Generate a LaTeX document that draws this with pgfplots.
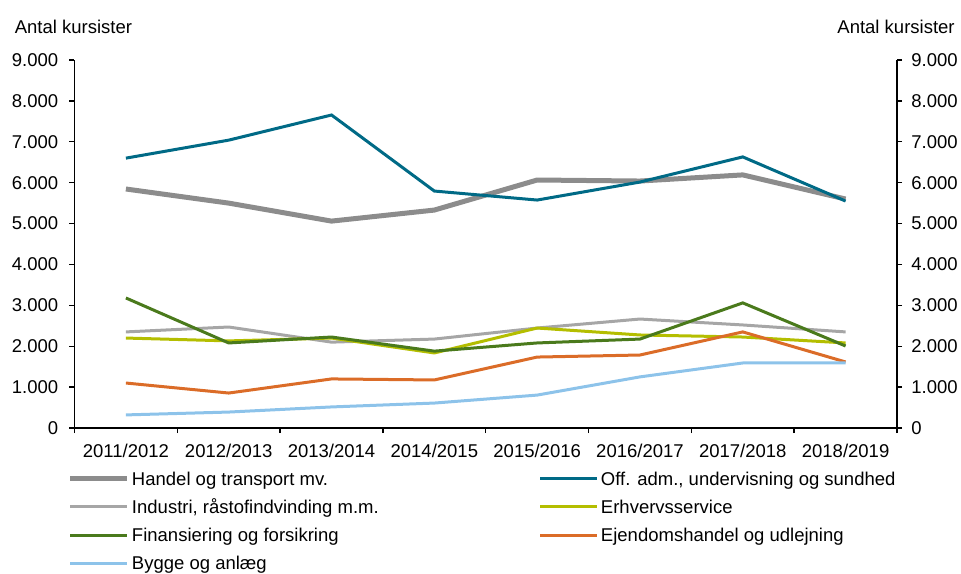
\documentclass[border=0pt]{standalone}
\usepackage{fontspec}
\setmainfont{Liberation Sans}
\usepackage{pgfplots}
\pgfplotsset{compat=1.18}
\definecolor{chand}{HTML}{8C8C8C}
\definecolor{coff}{HTML}{006A86}
\definecolor{cind}{HTML}{A6A6A6}
\definecolor{cerh}{HTML}{B4BE00}
\definecolor{cfin}{HTML}{4A7A1C}
\definecolor{cejd}{HTML}{DB6C28}
\definecolor{cbyg}{HTML}{8DC3EA}
\newcommand\fs{\fontsize{18.5bp}{22bp}\selectfont}
\pgfplotsset{
  kurs/.style={
    scale only axis, width=822.5bp, height=368bp,
    xmin=0, xmax=8, ymin=0, ymax=9000,
    ytick={0,1000,...,9000},
    axis line style={-, line width=1.4bp, black},
    tick align=outside,
    major tick length=5bp, minor tick length=5bp,
    tick style={black, line width=1.4bp},
    tick label style={font=\fs, black},
    /pgf/number format/.cd, 1000 sep={.}, assume math mode=true,
  }
}
\begin{document}
\fs
\begin{tikzpicture}
\begin{axis}[kurs, name=main,
  axis x line*=bottom, axis y line*=left,
  xtick={0.5,1.5,...,7.5},
  xticklabels={2011/2012,2012/2013,2013/2014,2014/2015,2015/2016,2016/2017,2017/2018,2018/2019},
  major x tick style={draw=none},
  minor xtick={0,1,...,8},
  xticklabel style={yshift=-5bp},
  yticklabel style={xshift=-5bp},
  legend columns=2,
  legend cell align=left,
  legend style={draw=none, fill=none, font=\fs, inner sep=0pt, outer sep=0pt,
    at={(0,0)}, anchor=north west, xshift=-6.5bp, yshift=-43.5bp,
    column sep=2bp, row sep=10.3bp,
    nodes={inner sep=0pt, text height=13.5bp, text depth=4.5bp}},
  legend image code/.code={\draw[#1] (0bp,2bp) -- (57bp,2bp);},
  every axis plot/.append style={line width=3bp},
]
\addplot[chand, line width=5bp] coordinates {(0.5,5845)(1.5,5500)(2.5,5060)(3.5,5330)(4.5,6065)(5.5,6040)(6.5,6190)(7.5,5600)};
\addlegendentry{\makebox[405bp][l]{Handel og transport mv.}}
\addplot[coff] coordinates {(0.5,6600)(1.5,7040)(2.5,7655)(3.5,5795)(4.5,5575)(5.5,6015)(6.5,6630)(7.5,5550)};
\addlegendentry{Off. adm., undervisning og sundhed}
\addplot[cind] coordinates {(0.5,2350)(1.5,2470)(2.5,2100)(3.5,2175)(4.5,2445)(5.5,2665)(6.5,2520)(7.5,2350)};
\addlegendentry{\makebox[405bp][l]{Industri, råstofindvinding m.m.}}
\addplot[cerh] coordinates {(0.5,2200)(1.5,2130)(2.5,2200)(3.5,1835)(4.5,2445)(5.5,2275)(6.5,2225)(7.5,2080)};
\addlegendentry{Erhvervsservice}
\addplot[cfin] coordinates {(0.5,3180)(1.5,2080)(2.5,2225)(3.5,1880)(4.5,2080)(5.5,2175)(6.5,3060)(7.5,2005)};
\addlegendentry{\makebox[405bp][l]{Finansiering og forsikring}}
\addplot[cejd] coordinates {(0.5,1100)(1.5,855)(2.5,1200)(3.5,1175)(4.5,1735)(5.5,1785)(6.5,2350)(7.5,1615)};
\addlegendentry{Ejendomshandel og udlejning}
\addplot[cbyg] coordinates {(0.5,320)(1.5,390)(2.5,515)(3.5,610)(4.5,805)(5.5,1250)(6.5,1590)(7.5,1590)};
\addlegendentry{\makebox[405bp][l]{Bygge og anlæg}}
\end{axis}
\begin{axis}[kurs,
  axis x line=none, axis y line*=right,
  yticklabel style={xshift=3bp},
]
\end{axis}
\node[anchor=base west, font=\fs] at ([xshift=-66bp, yshift=27bp]main.north west) {Antal kursister};
\node[anchor=base east, font=\fs] at ([xshift=64bp, yshift=27bp]main.north east) {Antal kursister};
\pgfresetboundingbox
\path ([xshift=-74.5bp, yshift=-146bp]main.south west) rectangle ++(961bp,574bp);
\end{tikzpicture}
\end{document}
